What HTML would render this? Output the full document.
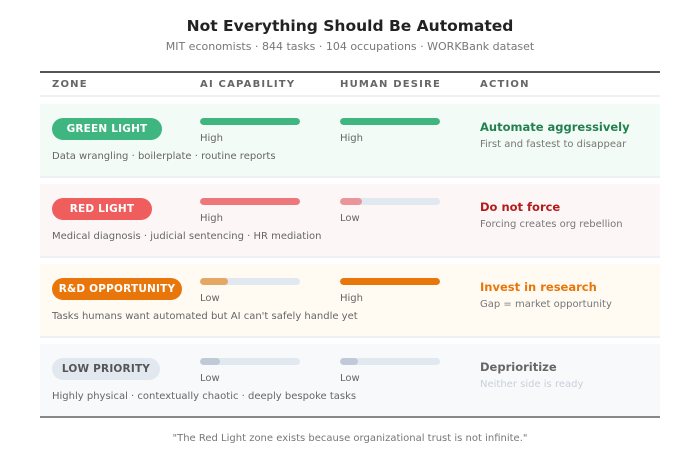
<!DOCTYPE html><html><head><style>
body{margin:0;width:700px;height:460px;background:#fff;font-family:"DejaVu Sans","Liberation Sans",sans-serif;position:relative;overflow:hidden}
div{position:absolute;white-space:nowrap}
.row{left:40px;width:620px;height:72px;border-bottom:2px solid #edf1f5}
.badge{height:22px;border-radius:11px;color:#fff;font-weight:bold;font-size:10.5px;line-height:22px;text-align:center;letter-spacing:.2px;left:52px}
.bar{width:100px;height:7px;border-radius:4px;background:#e2e8f0;overflow:hidden}
.bar i{display:block;height:100%;border-radius:4px}
.lbl{font-size:10px;color:#666}
.desc{font-size:10px;color:#666;left:52px}
.act{left:480px;font-size:11.5px;font-weight:bold}
.sub{left:480px;font-size:10px;color:#777}
.th{top:79px;font-size:10px;font-weight:bold;color:#666;letter-spacing:1.2px}
</style></head><body>
<div style="left:0;width:700px;top:17px;text-align:center;font-size:15.5px;font-weight:bold;color:#222">Not Everything Should Be Automated</div>
<div style="left:0;width:700px;top:40px;text-align:center;font-size:11px;color:#777">MIT economists · 844 tasks · 104 occupations · WORKBank dataset</div>
<div style="left:40px;width:620px;top:71px;height:2px;background:#555"></div>
<div class="th" style="left:52px">ZONE</div><div class="th" style="left:200px">AI CAPABILITY</div><div class="th" style="left:340px">HUMAN DESIRE</div><div class="th" style="left:480px">ACTION</div>
<div style="left:40px;width:620px;top:95px;height:2px;background:#edf1f5"></div>

<div class="row" style="top:104px;background:#f3fbf6"></div>
<div class="badge" style="top:118px;width:110px;background:#3fb67f">GREEN LIGHT</div>
<div class="bar" style="left:200px;top:118px"><i style="width:100%;background:#3fb67f"></i></div>
<div class="bar" style="left:340px;top:118px"><i style="width:100%;background:#3fb67f"></i></div>
<div class="lbl" style="left:200px;top:133px">High</div><div class="lbl" style="left:340px;top:133px">High</div>
<div class="desc" style="top:151px">Data wrangling · boilerplate · routine reports</div>
<div class="act" style="top:120px;color:#23804f">Automate aggressively</div>
<div class="sub" style="top:139px">First and fastest to disappear</div>

<div class="row" style="top:184px;background:#fdf6f6"></div>
<div class="badge" style="top:198px;width:100px;background:#f05d5d">RED LIGHT</div>
<div class="bar" style="left:200px;top:198px"><i style="width:100%;background:#ee777b"></i></div>
<div class="bar" style="left:340px;top:198px"><i style="width:22%;background:#ea9599"></i></div>
<div class="lbl" style="left:200px;top:213px">High</div><div class="lbl" style="left:340px;top:213px">Low</div>
<div class="desc" style="top:231px">Medical diagnosis · judicial sentencing · HR mediation</div>
<div class="act" style="top:200px;color:#b11d1d">Do not force</div>
<div class="sub" style="top:219px">Forcing creates org rebellion</div>

<div class="row" style="top:264px;background:#fffbf3"></div>
<div class="badge" style="top:278px;width:130px;background:#e8760a">R&amp;D OPPORTUNITY</div>
<div class="bar" style="left:200px;top:278px"><i style="width:28%;background:#e4a766"></i></div>
<div class="bar" style="left:340px;top:278px"><i style="width:100%;background:#e8760a"></i></div>
<div class="lbl" style="left:200px;top:293px">Low</div><div class="lbl" style="left:340px;top:293px">High</div>
<div class="desc" style="top:311px">Tasks humans want automated but AI can't safely handle yet</div>
<div class="act" style="top:280px;color:#e8760a">Invest in research</div>
<div class="sub" style="top:299px">Gap = market opportunity</div>

<div class="row" style="top:344px;background:#f8f9fa;border-bottom:2px solid #888"></div>
<div class="badge" style="top:358px;width:108px;background:#e2e8f0;color:#555">LOW PRIORITY</div>
<div class="bar" style="left:200px;top:358px"><i style="width:20%;background:#c0c9d8"></i></div>
<div class="bar" style="left:340px;top:358px"><i style="width:18%;background:#c0c9d8"></i></div>
<div class="lbl" style="left:200px;top:373px">Low</div><div class="lbl" style="left:340px;top:373px">Low</div>
<div class="desc" style="top:391px">Highly physical · contextually chaotic · deeply bespoke tasks</div>
<div class="act" style="top:360px;color:#666">Deprioritize</div>
<div class="sub" style="top:379px;color:#c8d0dc">Neither side is ready</div>

<div style="left:0;width:700px;top:433px;text-align:center;font-size:10px;color:#777">"The Red Light zone exists because organizational trust is not infinite."</div>
</body></html>
